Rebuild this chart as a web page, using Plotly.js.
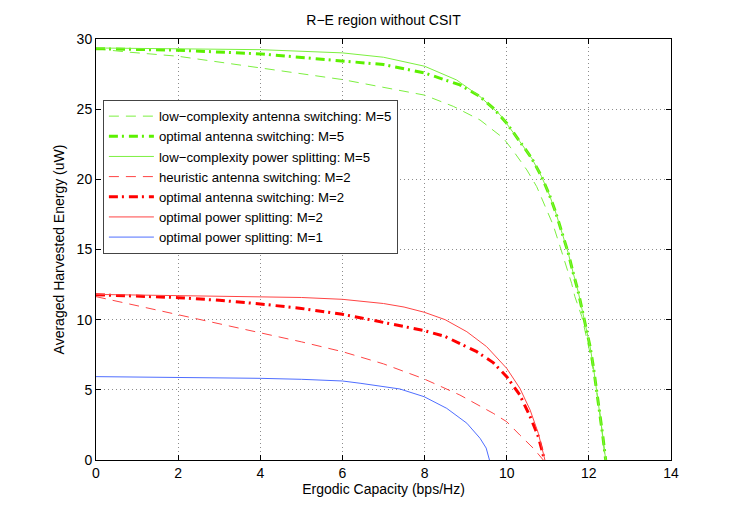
<!DOCTYPE html>
<html>
<head>
<meta charset="utf-8">
<script src="https://cdn.plot.ly/plotly-3.0.1.min.js"></script>
<style>html,body{margin:0;padding:0;background:#fff;}#chart{width:741px;height:517px;}</style>
</head>
<body>
<div id="chart"></div>
<script>
// Series names (legend order)
const seriesNames = [
  "low\u2212complexity antenna switching: M=5",
  "optimal antenna switching: M=5",
  "low\u2212complexity power splitting: M=5",
  "heuristic antenna switching: M=2",
  "optimal antenna switching: M=2",
  "optimal power splitting: M=2",
  "optimal power splitting: M=1"
];

// low-complexity antenna switching, M=5
const lcAsM5X = [0, 0.81, 2, 4, 6, 8, 8.7, 9.35, 9.92, 10.2, 10.49, 10.73, 10.93, 11.13, 11.3, 11.46, 11.58, 11.66, 11.83, 12.03, 12.15, 12.27, 12.33, 12.4];
const lcAsM5Y = [29.3, 29.06, 28.77, 27.94, 27.11, 26.0, 25.2, 24.23, 22.93, 21.86, 20.67, 19.48, 18.17, 16.75, 15.2, 13.78, 12.59, 11.64, 10.21, 7.6, 5.7, 3.33, 1.7, 0];

// optimal antenna switching, M=5
const optAsM5X = [0, 2, 4, 6, 7, 8, 8.86, 9.35, 9.67, 10.0, 10.32, 10.61, 10.85, 11.04, 11.2, 11.34, 11.5, 11.62, 11.74, 11.89, 12.03, 12.11, 12.19, 12.27, 12.34, 12.41];
const optAsM5Y = [29.31, 29.2, 28.94, 28.46, 28.18, 27.58, 26.73, 25.9, 25.07, 24.0, 22.69, 21.5, 20.19, 18.89, 17.58, 16.27, 14.73, 13.31, 12.0, 9.98, 8.08, 6.65, 4.99, 3.33, 1.7, 0];

// low-complexity power splitting, M=5
const lcPsM5X = [0, 2, 4, 6, 7, 8, 8.78, 9.35, 9.84, 10.32, 10.61, 10.85, 11.04, 11.2, 11.34, 11.5, 11.62, 11.74, 11.89, 12.03, 12.11, 12.19, 12.27, 12.34, 12.41];
const lcPsM5Y = [29.36, 29.32, 29.24, 29.01, 28.7, 28.06, 27.08, 25.9, 24.6, 22.69, 21.5, 20.19, 18.89, 17.58, 16.27, 14.73, 13.31, 12.0, 9.98, 8.08, 6.65, 4.99, 3.33, 1.7, 0];

// heuristic antenna switching, M=2
const heurAsM2X = [0, 1, 2, 3, 4, 5, 6, 6.59, 7, 7.97, 8.86, 9.67, 10.0, 10.32, 10.65, 10.89];
const heurAsM2Y = [11.64, 11.0, 10.38, 9.75, 9.1, 8.42, 7.72, 7.2, 6.85, 5.8, 4.63, 3.33, 2.73, 1.78, 0.83, 0];

// optimal antenna switching, M=2
const optAsM2X = [0, 1, 2, 3, 4, 5, 6, 6.43, 7, 7.99, 8.5, 8.86, 9.27, 9.67, 10.0, 10.32, 10.57, 10.77, 10.92];
const optAsM2Y = [11.78, 11.7, 11.57, 11.38, 11.12, 10.8, 10.38, 10.14, 9.8, 9.22, 8.8, 8.32, 7.72, 6.94, 5.94, 4.63, 3.09, 1.66, 0];

// optimal power splitting, M=2
const optPsM2X = [0, 2, 4, 5, 6, 6.43, 7, 7.5, 7.99, 8.5, 9.03, 9.51, 10.0, 10.32, 10.57, 10.77, 10.93];
const optPsM2Y = [11.8, 11.72, 11.64, 11.58, 11.45, 11.33, 11.15, 10.9, 10.53, 10.0, 9.14, 8.08, 6.53, 5.11, 3.56, 1.9, 0];

// optimal power splitting, M=1
const optPsM1X = [0, 2, 4, 5, 6, 6.43, 7, 7.4, 7.99, 8.54, 9.03, 9.35, 9.5, 9.58];
const optPsM1Y = [5.94, 5.9, 5.82, 5.75, 5.63, 5.47, 5.25, 5.06, 4.51, 3.68, 2.62, 1.55, 0.85, 0];

const xTicks = [0, 2, 4, 6, 8, 10, 12, 14];
const yTicks = [0, 5, 10, 15, 20, 25, 30];

const GREEN = "#5cf000";
const GREEN_THIN = "#7cf040";
const RED = "#ff0000";
const RED_THIN = "#ff4444";
const BLUE = "#4f6eff";
const THIN_DASH = "10px,7px";
const DASHDOT = "9px,4px,2px,5px";

const traces = [
  {x: lcAsM5X, y: lcAsM5Y, name: seriesNames[0], line: {color: GREEN_THIN, width: 1, dash: THIN_DASH}},
  {x: optAsM5X, y: optAsM5Y, name: seriesNames[1], line: {color: GREEN, width: 3, dash: DASHDOT}},
  {x: lcPsM5X, y: lcPsM5Y, name: seriesNames[2], line: {color: GREEN_THIN, width: 1}},
  {x: heurAsM2X, y: heurAsM2Y, name: seriesNames[3], line: {color: RED_THIN, width: 1, dash: THIN_DASH}},
  {x: optAsM2X, y: optAsM2Y, name: seriesNames[4], line: {color: RED, width: 3, dash: DASHDOT}},
  {x: optPsM2X, y: optPsM2Y, name: seriesNames[5], line: {color: RED_THIN, width: 1}},
  {x: optPsM1X, y: optPsM1Y, name: seriesNames[6], line: {color: BLUE, width: 1}}
].map(t => Object.assign({type: "scatter", mode: "lines"}, t));

const FONT = "Liberation Sans, Arial, Helvetica, sans-serif";
const TXT = {family: FONT, size: 14, color: "#000"};

const axisCommon = {
  showline: true, mirror: "ticks", linecolor: "#000", linewidth: 1,
  ticks: "inside", ticklen: 5, tickcolor: "#000", tickwidth: 1,
  showgrid: true, gridcolor: "#8c8c8c", gridwidth: 1, griddash: "1px,3px",
  zeroline: false, tickfont: TXT,
  automargin: false
};

const layout = {
  width: 741, height: 517,
  paper_bgcolor: "#fff", plot_bgcolor: "#fff",
  margin: {l: 96, r: 70, t: 39, b: 57},
  font: TXT,
  title: {text: "R\u2212E region without CSIT", font: TXT,
          x: 0.5, xref: "paper", y: 1 - 20/517, yref: "container", yanchor: "middle"},
  xaxis: Object.assign({}, axisCommon, {
    range: [0, 14], tickvals: xTicks, ticktext: xTicks.map(String),
    title: {text: "Ergodic Capacity (bps/Hz)", font: TXT, standoff: 2}
  }),
  yaxis: Object.assign({}, axisCommon, {
    range: [0, 30], tickvals: yTicks, ticktext: yTicks.map(String),
    title: {text: "Averaged Harvested Energy (uW)", font: TXT, standoff: 8}
  }),
  showlegend: true,
  legend: {
    x: 0.012, y: 0.855, xanchor: "left", yanchor: "top",
    bgcolor: "#fff", bordercolor: "#444", borderwidth: 1,
    font: {family: FONT, size: 13.2, color: "#000"},
    itemwidth: 45, tracegroupgap: 0
  }
};

Plotly.newPlot("chart", traces, layout, {displayModeBar: false, staticPlot: true});
</script>
</body>
</html>
